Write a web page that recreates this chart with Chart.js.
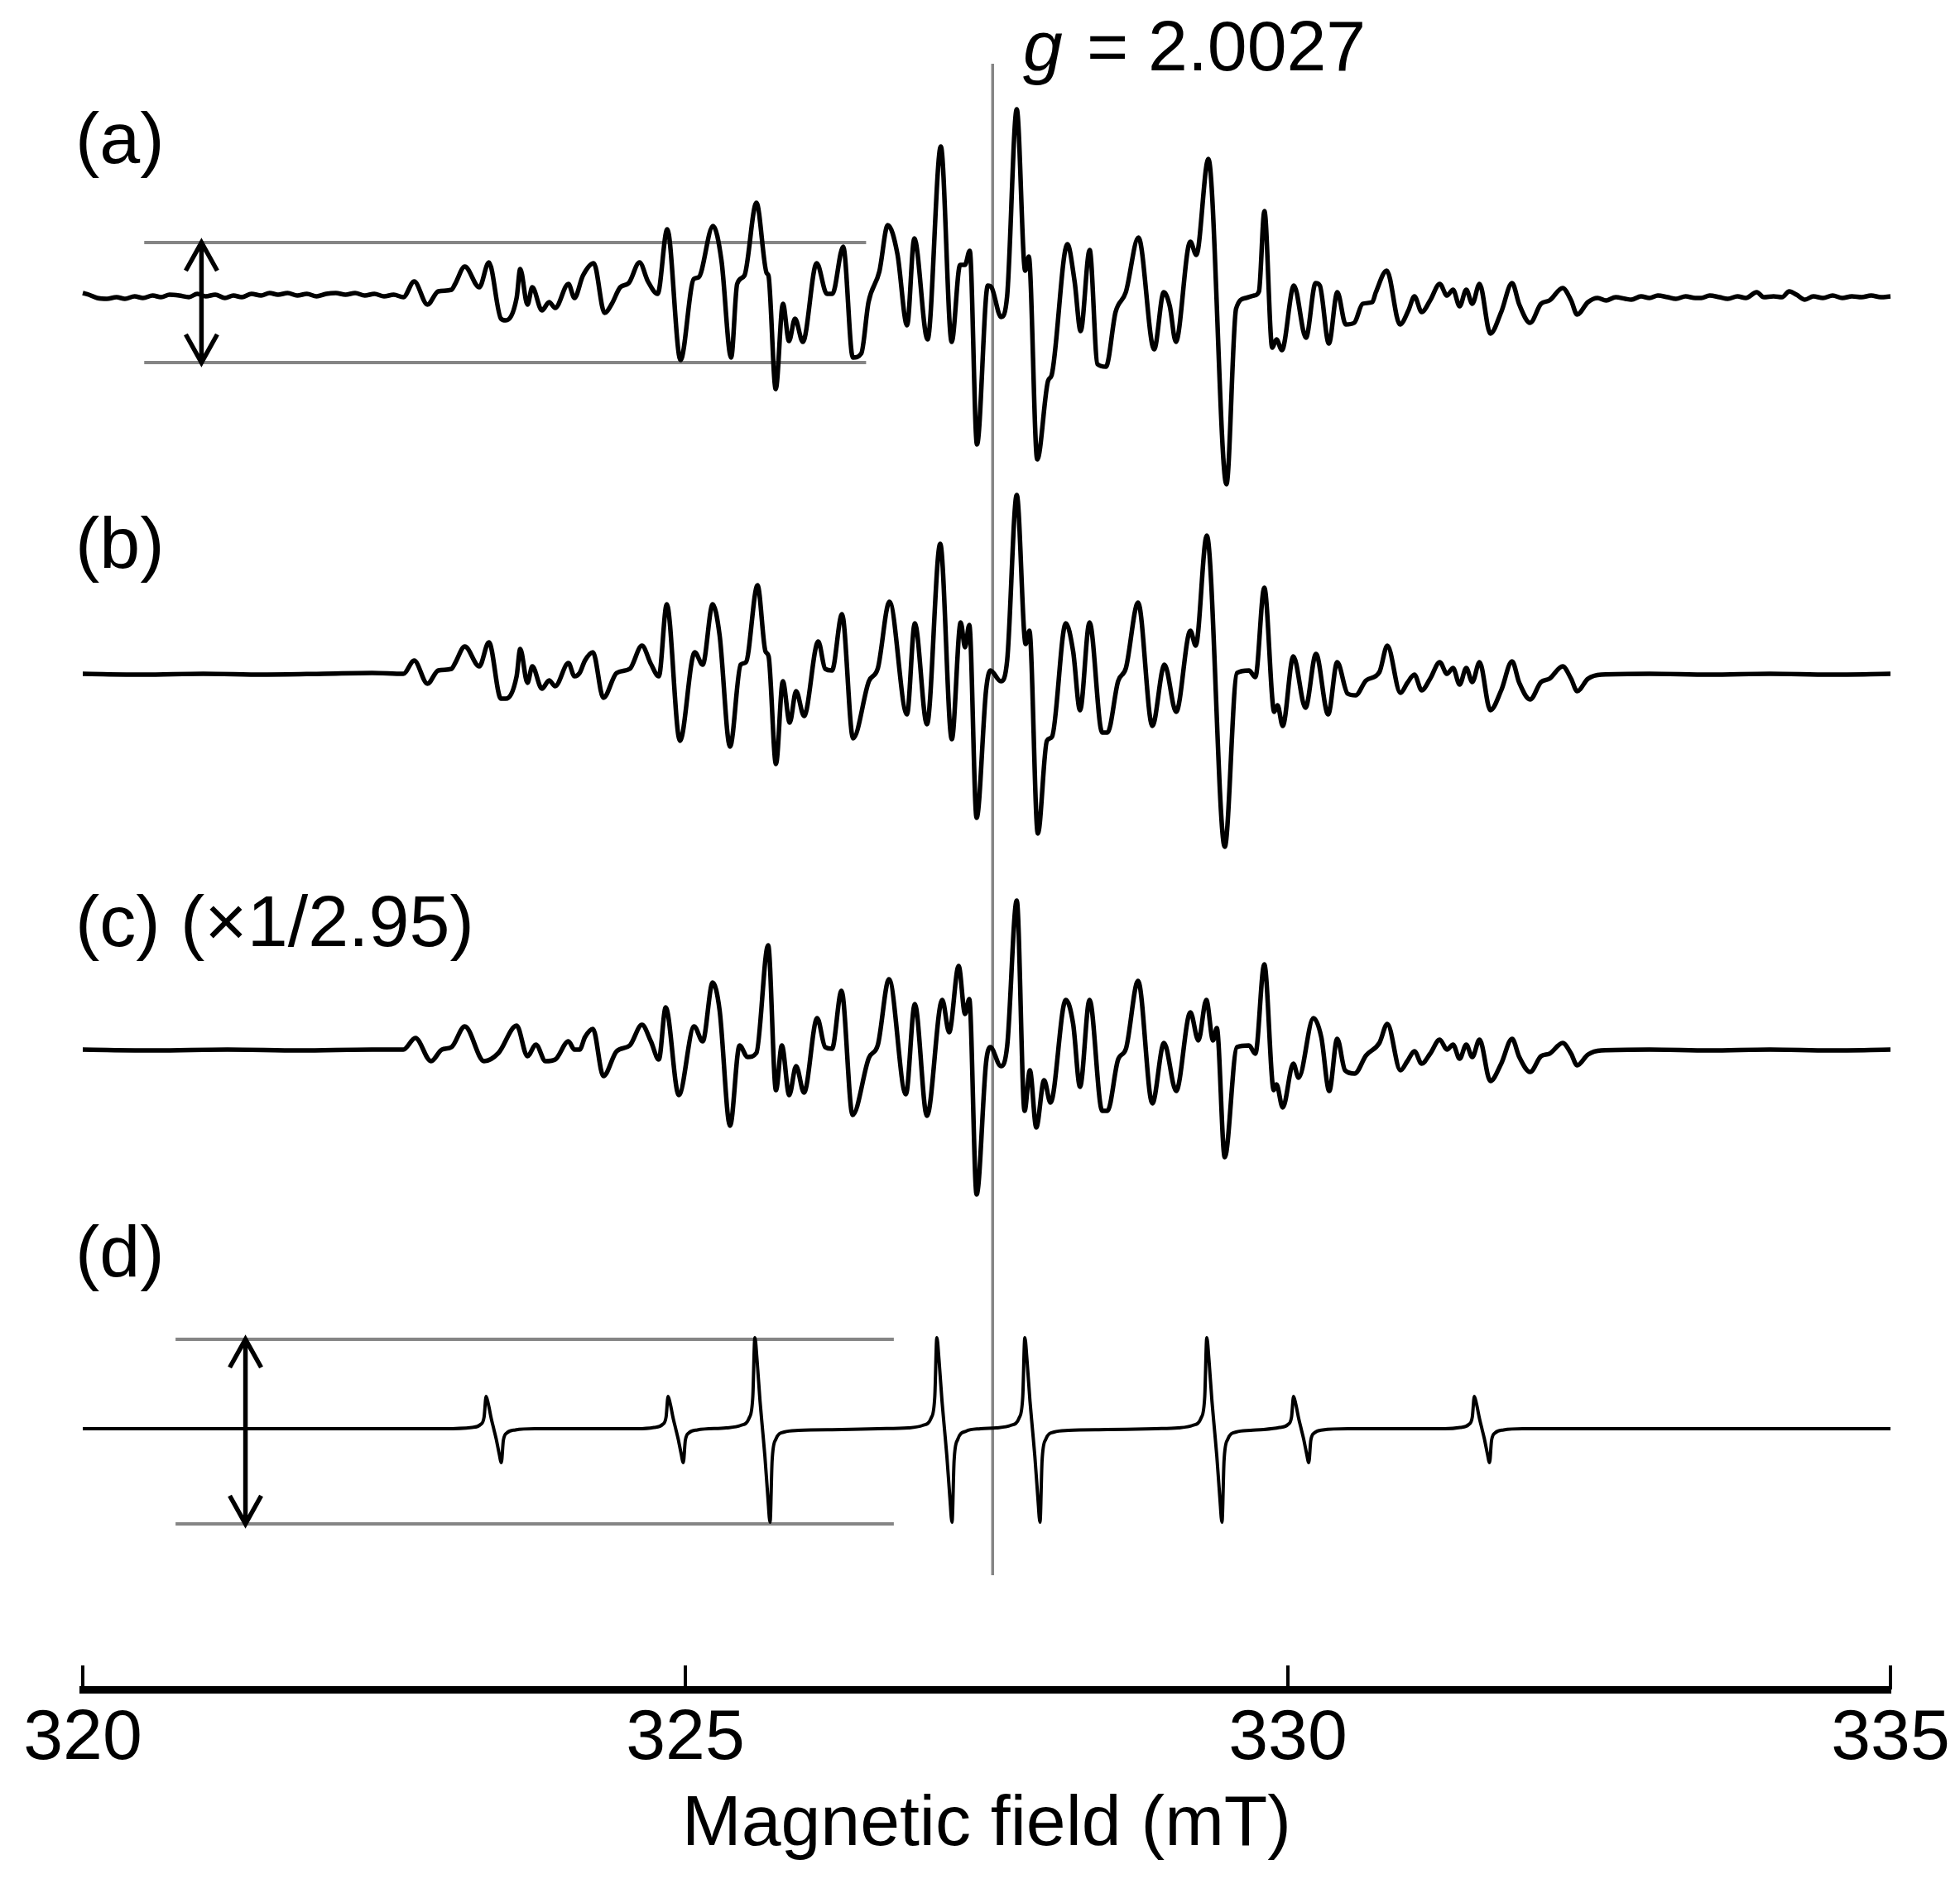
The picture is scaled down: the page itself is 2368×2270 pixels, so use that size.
<!DOCTYPE html>
<html>
<head>
<meta charset="utf-8">
<script src="https://cdn.jsdelivr.net/npm/chart.js@4.4.1/dist/chart.umd.min.js"></script>
<style>
  body { margin: 0; background: #fff; }
  canvas { display: block; }
</style>
</head>
<body>
<canvas id="eprChart" width="2368" height="2270"></canvas>
<script>
const FONT = "'Liberation Sans', Arial, Helvetica, sans-serif";

// field axis (mT)
const fieldTicks = [320, 325, 330, 335];
const gField = 327.55;
const panelLabels = ['(a)', '(b)', '(c) (\u00d71/2.95)', '(d)'];

// spectra, [field (mT), signal (arb. units)]
const traceA = [
  [320.00, 3], [320.05, 1], [320.12, -3], [320.20, -4], [320.28, -2], [320.35, -4], [320.43, -1], [320.50, -3],
  [320.58, 0], [320.65, -2], [320.72, 1], [320.80, 0], [320.88, -2], [320.95, 2], [321.02, -1], [321.10, 1],
  [321.18, -3], [321.25, 0], [321.32, -2], [321.40, 2], [321.48, 0], [321.55, 3], [321.62, 1], [321.70, 3],
  [321.78, 0], [321.86, 2], [321.94, -1], [322.02, 2], [322.10, 3], [322.18, 1], [322.26, 3], [322.34, 0],
  [322.42, 2], [322.50, -1], [322.58, 1], [322.66, -2],
  [322.75, 17], [322.86, -11], [322.95, 5], [323.06, 7], [323.09, 14], [323.17, 35], [323.29, 10], [323.37, 40],
  [323.47, -28], [323.51, -30], [323.60, -3], [323.63, 32], [323.69, -11], [323.73, 10], [323.81, -18], [323.87, -8],
  [323.92, -15], [324.03, 14], [324.08, -3], [324.15, 24], [324.24, 39], [324.33, -21], [324.39, -10], [324.46, 10],
  [324.53, 15], [324.62, 40], [324.69, 17], [324.77, 2], [324.85, 80], [324.96, -78], [325.07, 20], [325.11, 22],
  [325.23, 84], [325.30, 42], [325.38, -75],
  [325.43, 14], [325.49, 24], [325.59, 112], [325.675, 27], [325.69, 24], [325.75, -113], [325.81, -10], [325.86, -55],
  [325.91, -28], [325.975, -56], [326.09, 39], [326.175, 2], [326.22, 2], [326.31, 59], [326.39, -75], [326.46, -70],
  [326.52, -8], [326.61, 29], [326.68, 85], [326.76, 50], [326.84, -36], [326.90, 69], [327.01, -53], [327.12, 180],
  [327.21, -56], [327.28, 37], [327.32, 37], [327.36, 54], [327.42, -180], [327.51, 12], [327.54, 10], [327.62, -26],
  [327.67, -1], [327.75, 225], [327.82, 30], [327.85, 47], [327.92, -198], [328.01, -103], [328.04, -96], [328.17, 62],
  [328.23, 17], [328.28, -43], [328.355, 55], [328.42, -83], [328.49, -86], [328.57, -20], [328.655, 4], [328.76, 70],
  [328.89, -65], [328.97, 4], [329.02, -13], [329.07, -56], [329.19, 65], [329.24, 49], [329.34, 165], [329.49, -228],
  [329.57, -16], [329.65, -3], [329.72, 0],
  [329.76, 5], [329.805, 102], [329.87, -63], [329.905, -53], [329.95, -66], [330.05, 12], [330.15, -51], [330.23, 15],
  [330.265, 12], [330.34, -58], [330.41, 4], [330.48, -35], [330.55, -33], [330.62, -10], [330.70, -8], [330.73, 4],
  [330.82, 30], [330.93, -35], [331.00, -18], [331.05, -1], [331.11, -20], [331.18, -6], [331.26, 14], [331.32, 0],
  [331.37, 7], [331.425, -13], [331.48, 7], [331.53, -10], [331.59, 14], [331.68, -46], [331.77, -20], [331.86, 15],
  [331.92, -11], [332.01, -33], [332.10, -10], [332.17, -6], [332.28, 9], [332.35, -6], [332.40, -23], [332.49, -8],
  [332.57, -3], [332.64, -6], [332.72, -2], [332.80, -4], [332.85, -5], [332.93, -1], [333.00, -3], [333.07, 0],
  [333.15, -2], [333.22, -4], [333.30, -1], [333.38, -3], [333.43, -3], [333.50, 0], [333.58, -2], [333.65, -4],
  [333.73, -1], [333.80, -3], [333.89, 4], [333.95, -2], [334.03, -1], [334.10, -2], [334.16, 5], [334.22, 1],
  [334.29, -5], [334.36, -1], [334.44, -3], [334.52, 0], [334.60, -3], [334.68, -1], [334.76, -2], [334.84, 0],
  [334.92, -2], [335.00, -1]
];

const traceB = [
  [320.0, 0], [320.5, -1], [321.0, 0], [321.5, -1], [322.0, 0], [322.4, 1], [322.66, 0],
  [322.75, 16], [322.86, -12], [322.95, 4], [323.06, 6], [323.09, 13], [323.17, 33], [323.29, 9], [323.37, 38],
  [323.47, -30], [323.51, -30], [323.60, -3], [323.63, 30], [323.69, -11], [323.73, 9], [323.81, -18], [323.87, -8],
  [323.92, -15], [324.03, 13], [324.08, -3],
  [324.123, 1], [324.167, 16], [324.233, 26], [324.32, -29], [324.43, 1], [324.539, 6], [324.64, 34], [324.714, 12],
  [324.78, -3], [324.846, 84], [324.955, -81], [325.078, 26], [325.144, 11], [325.227, 84], [325.284, 47], [325.371, -88],
  [325.459, 11], [325.503, 14], [325.599, 107], [325.665, 27], [325.691, 21], [325.752, -109], [325.809, -9], [325.866, -59],
  [325.919, -21], [325.985, -51], [326.103, 39], [326.16, 6], [326.217, 4], [326.30, 72], [326.392, -78], [326.523, -9],
  [326.598, 7], [326.694, 87], [326.839, -49], [326.904, 61], [327.005, -61], [327.115, 157], [327.211, -79], [327.285, 62],
  [327.321, 32], [327.356, 59], [327.417, -174], [327.496, -19], [327.531, 4], [327.618, -9], [327.671, 17], [327.75, 216],
  [327.824, 36], [327.855, 52], [327.925, -193], [328.0, -81], [328.043, -76], [328.157, 61], [328.218, 27], [328.275, -44],
  [328.354, 62], [328.459, -71], [328.503, -71], [328.591, -9], [328.656, 7], [328.757, 86], [328.875, -63], [328.976, 11],
  [329.073, -46], [329.191, 52], [329.235, 34], [329.327, 167], [329.476, -209], [329.577, 1], [329.677, 4], [329.73, -4],
  [329.804, 104], [329.887, -46], [329.914, -38], [329.957, -63], [330.045, 21], [330.146, -41], [330.233, 24], [330.334, -49],
  [330.409, 14], [330.496, -24], [330.562, -26], [330.649, -8], [330.759, 2], [330.825, 34], [330.934, -23], [330.991, -11],
  [331.05, -1], [331.11, -20], [331.18, -6], [331.26, 14], [331.32, 0], [331.37, 7], [331.425, -13], [331.48, 7],
  [331.53, -10], [331.59, 14], [331.68, -44], [331.77, -20], [331.86, 15], [331.92, -11], [332.01, -31], [332.10, -10],
  [332.17, -6], [332.28, 9], [332.35, -6], [332.40, -21], [332.49, -6], [332.6, -1], [333.0, 0], [333.5, -1],
  [334.0, 0], [334.5, -1], [335.0, 0]
];

const traceC = [
  [320.0, 0], [320.6, -1], [321.2, 0], [321.8, -1], [322.4, 0], [322.66, 0],
  [322.76, 14], [322.89, -14], [322.98, 0], [323.06, 3], [323.17, 28], [323.33, -14], [323.45, -4], [323.60, 29],
  [323.69, -8], [323.76, 6], [323.84, -14], [323.92, -12], [324.03, 10], [324.08, 0],
  [324.123, 0], [324.167, 15], [324.233, 25], [324.32, -32], [324.43, -2], [324.539, 5], [324.64, 30], [324.714, 10],
  [324.78, -12], [324.837, 51], [324.946, -55], [325.073, 28], [325.144, 10], [325.227, 81], [325.284, 48], [325.371, -92],
  [325.45, 5], [325.516, -9], [325.59, -4], [325.687, 126], [325.752, -49], [325.801, 5], [325.862, -55], [325.919, -20],
  [325.985, -52], [326.094, 38], [326.16, 3], [326.217, 1], [326.296, 71], [326.388, -79], [326.523, -10], [326.598, 6],
  [326.69, 85], [326.83, -54], [326.904, 55], [327.005, -80], [327.132, 60], [327.189, 21], [327.268, 101], [327.321, 43],
  [327.356, 61], [327.417, -175], [327.496, -15], [327.531, 3], [327.618, -20], [327.671, 5], [327.75, 180], [327.815, -74],
  [327.859, -25], [327.912, -94], [327.977, -37], [328.03, -64], [328.157, 60], [328.218, 31], [328.275, -45], [328.354, 60],
  [328.459, -74], [328.503, -74], [328.591, -12], [328.656, 1], [328.757, 83], [328.875, -65], [328.972, 8], [329.073, -50],
  [329.191, 45], [329.257, 11], [329.323, 60], [329.379, 11], [329.41, 26], [329.476, -130], [329.577, 3], [329.677, 5],
  [329.73, -5], [329.804, 103], [329.883, -49], [329.905, -42], [329.957, -70], [330.045, -17], [330.089, -34], [330.212, 38],
  [330.277, 15], [330.343, -50], [330.409, 13], [330.474, -25], [330.553, -29], [330.649, -7], [330.759, 8], [330.825, 31],
  [330.934, -25], [330.991, -14],
  [331.05, -2], [331.11, -17], [331.18, -5], [331.26, 12], [331.32, 0], [331.37, 6], [331.425, -11], [331.48, 6],
  [331.53, -9], [331.59, 12], [331.68, -38], [331.77, -17], [331.86, 13], [331.92, -9], [332.01, -27], [332.10, -8],
  [332.17, -5], [332.28, 8], [332.35, -5], [332.40, -19], [332.49, -6], [332.6, -1], [333.0, 0], [333.5, -1],
  [334.0, 0], [334.5, -1], [335.0, 0]
];

// simulated spectrum
const traceD = [
  [320.0, 0], [323.0, 0],
  [323.23, 1.5], [323.30, 5], [323.33, 14], [323.347, 39], [323.365, 30], [323.39, 12], [323.41, 0], [323.43, -12],
  [323.455, -30], [323.473, -41], [323.49, -14], [323.52, -5], [323.59, -1.5], [323.75, 0],
  [324.6, 0], [324.74, 1.5], [324.81, 5], [324.84, 14], [324.857, 39], [324.875, 30], [324.90, 12], [324.92, 0],
  [324.94, -12], [324.965, -30], [324.983, -41], [325.00, -14], [325.03, -5], [325.10, -1.5],
  [325.34, 1], [325.46, 4], [325.53, 13], [325.56, 39], [325.577, 110], [325.595, 83], [325.62, 33], [325.64, 0],
  [325.66, -33], [325.685, -83], [325.703, -113], [325.72, -39], [325.75, -13], [325.82, -4], [325.94, -2], [326.30, -1],
  [326.60, 0],
  [326.85, 1], [326.97, 4], [327.04, 13], [327.07, 39], [327.087, 110], [327.105, 83], [327.13, 33], [327.15, 0],
  [327.17, -33], [327.195, -83], [327.213, -113], [327.23, -39], [327.26, -13], [327.33, -3], [327.45, 0],
  [327.58, 1], [327.70, 4], [327.77, 13], [327.80, 39], [327.817, 110], [327.835, 83], [327.86, 33], [327.88, 0],
  [327.90, -33], [327.925, -83], [327.943, -113], [327.96, -39], [327.99, -13], [328.06, -4], [328.18, -2], [328.50, -1],
  [328.90, 0],
  [329.09, 1], [329.21, 4], [329.28, 13], [329.31, 39], [329.327, 110], [329.345, 83], [329.37, 33], [329.39, 0],
  [329.41, -33], [329.435, -83], [329.453, -113], [329.47, -39], [329.50, -13], [329.57, -4], [329.69, -2], [329.80, -1],
  [329.93, 1.5], [330.00, 5], [330.03, 14], [330.047, 39], [330.065, 30], [330.09, 12], [330.11, 0], [330.13, -12],
  [330.155, -30], [330.173, -41], [330.19, -14], [330.22, -5], [330.29, -1.5], [330.50, 0],
  [331.30, 0], [331.43, 1.5], [331.50, 5], [331.53, 14], [331.547, 39], [331.565, 30], [331.59, 12], [331.61, 0],
  [331.63, -12], [331.655, -30], [331.673, -41], [331.69, -14], [331.72, -5], [331.79, -1.5], [331.95, 0], [335.0, 0]
];

// peak-to-peak markers: signal levels and field span
const markA = [64, -81];
const markD = [108, -115];
const markSpanA = [320.51, 326.50];
const markSpanD = [320.77, 326.73];
const arrowFieldA = 320.985;
const arrowFieldD = 321.35;

// layout (canvas pixels)
const AREA_TOP = 40;
const AREA_BOTTOM = 2041;
const baselines = [357, 814, 1268, 1726];
const labelRows = [197, 686, 1143, 1542];

function yAxis(base) {
    return { type: 'linear', display: false, min: -(AREA_BOTTOM - base), max: base - AREA_TOP };
}

function trace(pairs, axis, width) {
    return {
        data: pairs.map(p => ({ x: p[0], y: p[1] })),
        yAxisID: axis,
        borderColor: '#000',
        borderWidth: width,
        pointRadius: 0,
        cubicInterpolationMode: 'monotone',
        clip: false,
        order: 0
    };
}

function guide(span, level, axis) {
    return {
        data: [{ x: span[0], y: level }, { x: span[1], y: level }],
        yAxisID: axis,
        borderColor: '#858585',
        borderWidth: 4,
        pointRadius: 0,
        clip: false,
        order: 1
    };
}

function drawArrow(ctx, x, yTop, yBottom) {
    const hw = 19, hl = 34;
    ctx.beginPath();
    ctx.moveTo(x, yTop);
    ctx.lineTo(x, yBottom);
    ctx.moveTo(x - hw, yTop + hl);
    ctx.lineTo(x, yTop);
    ctx.lineTo(x + hw, yTop + hl);
    ctx.moveTo(x - hw, yBottom - hl);
    ctx.lineTo(x, yBottom);
    ctx.lineTo(x + hw, yBottom - hl);
    ctx.stroke();
}

const decorations = {
    id: 'decorations',
    afterDatasetsDraw(chart) {
        const { ctx, scales, chartArea } = chart;
        const xs = scales.x;
        ctx.save();
        ctx.strokeStyle = '#000';
        ctx.lineWidth = 4;
        fieldTicks.forEach(v => {
            const px = xs.getPixelForValue(v);
            ctx.beginPath();
            ctx.moveTo(px, chartArea.bottom);
            ctx.lineTo(px, chartArea.bottom - 29);
            ctx.stroke();
        });

        ctx.lineWidth = 5.5;
        ctx.lineJoin = 'miter';
        drawArrow(ctx, xs.getPixelForValue(arrowFieldA),
            scales.ya.getPixelForValue(markA[0]), scales.ya.getPixelForValue(markA[1]));
        drawArrow(ctx, xs.getPixelForValue(arrowFieldD),
            scales.yd.getPixelForValue(markD[0]), scales.yd.getPixelForValue(markD[1]));

        ctx.fillStyle = '#000';
        ctx.textAlign = 'left';
        ctx.textBaseline = 'alphabetic';
        ctx.font = '88px ' + FONT;
        panelLabels.forEach((t, i) => ctx.fillText(t, 91, labelRows[i]));

        ctx.font = 'italic 86px ' + FONT;
        ctx.fillText('g', 1236, 85);
        ctx.font = '86px ' + FONT;
        ctx.fillText('= 2.0027', 1313, 85);
        ctx.restore();
    }
};

const eprChart = document.querySelector('#eprChart');

new Chart(eprChart, {
    type: 'line',
    data: {
        datasets: [
            trace(traceA, 'ya', 5.5),
            trace(traceB, 'yb', 5.5),
            trace(traceC, 'yc', 5.5),
            trace(traceD, 'yd', 4),
            guide(markSpanA, markA[0], 'ya'),
            guide(markSpanA, markA[1], 'ya'),
            guide(markSpanD, markD[0], 'yd'),
            guide(markSpanD, markD[1], 'yd'),
            {
                data: [{ x: gField, y: 280 }, { x: gField, y: -1546 }],
                yAxisID: 'ya',
                borderColor: '#858585',
                borderWidth: 3.5,
                pointRadius: 0,
                clip: false,
                order: 1
            }
        ]
    },
    options: {
        responsive: false,
        devicePixelRatio: 1,
        animation: false,
        events: [],
        layout: { padding: { left: 100, right: 84, top: AREA_TOP, bottom: 0 } },
        plugins: {
            legend: { display: false },
            tooltip: { enabled: false }
        },
        scales: {
            x: {
                type: 'linear',
                min: 320,
                max: 335,
                afterFit: s => { s.height = 2270 - AREA_BOTTOM; },
                ticks: {
                    stepSize: 5,
                    color: '#000',
                    font: { family: FONT, size: 86 },
                    padding: 9,
                    maxRotation: 0,
                    autoSkip: false
                },
                grid: { display: true, drawOnChartArea: false, drawTicks: false },
                border: { display: true, color: '#000', width: 9 },
                title: {
                    display: true,
                    text: 'Magnetic field (mT)',
                    color: '#000',
                    font: { family: FONT, size: 86 },
                    padding: { top: 0, bottom: 13 }
                }
            },
            ya: yAxis(baselines[0]),
            yb: yAxis(baselines[1]),
            yc: yAxis(baselines[2]),
            yd: yAxis(baselines[3])
        }
    },
    plugins: [decorations]
});
</script>
</body>
</html>
